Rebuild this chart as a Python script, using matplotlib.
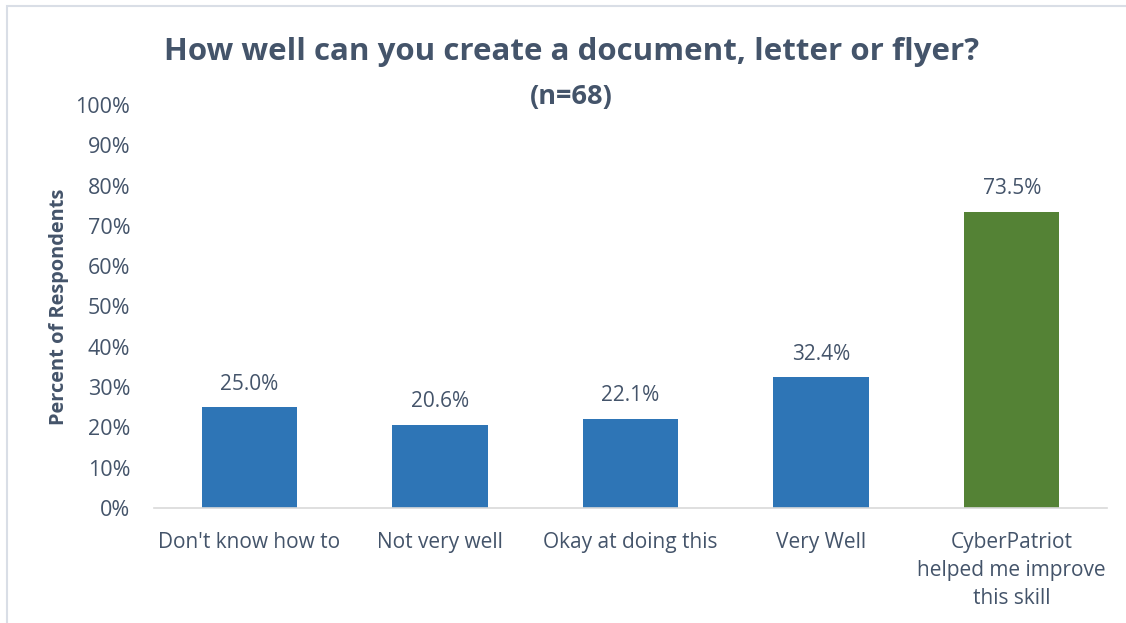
import matplotlib.pyplot as plt
from matplotlib.patches import Rectangle

categories = ["Don't know how to", "Not very well", "Okay at doing this", "Very Well",
              "CyberPatriot\nhelped me improve\nthis skill"]
percents = [25.0, 20.6, 22.1, 32.4, 73.5]
bar_colors = ["#2E75B6", "#2E75B6", "#2E75B6", "#2E75B6", "#548235"]
yticks = [0, 10, 20, 30, 40, 50, 60, 70, 80, 90, 100]

TXT = "#44546A"
plt.rcParams['font.family'] = ['Open Sans', 'DejaVu Sans']

fig = plt.figure(figsize=(11.26, 6.23), dpi=100)
ax = fig.add_axes([154 / 1126, 1 - 508 / 623, 953 / 1126, 403 / 623])

# light frame around the chart area
fig.patches.append(Rectangle((7 / 1126, -0.1), 1.2, 1 - 6 / 623 + 0.1, transform=fig.transFigure,
                             fill=False, edgecolor="#D9DEE6", linewidth=1.5))

x = range(len(categories))
bars = ax.bar(x, percents, width=0.5, color=bar_colors)
for b, v in zip(bars, percents):
    ax.annotate(f"{v:.1f}%", (b.get_x() + b.get_width() / 2, v), xytext=(0, 9),
                textcoords="offset points", ha="center", va="bottom", fontsize=15, color=TXT)

ax.set_xlim(-0.5, len(categories) - 0.5)
ax.set_ylim(0, 100)
ax.set_yticks(yticks)
ax.set_yticklabels([f"{t}%" for t in yticks])
ax.set_xticks(list(x))
ax.set_xticklabels(categories, linespacing=1.45)
ax.tick_params(axis="y", length=0, pad=17, labelsize=15.5, labelcolor=TXT)
ax.tick_params(axis="x", length=0, pad=17, labelsize=15, labelcolor=TXT)

for s in ["top", "right", "left"]:
    ax.spines[s].set_visible(False)
ax.spines["bottom"].set_color("#D9D9D9")
ax.spines["bottom"].set_linewidth(1.2)

ax.set_ylabel("Percent of Respondents", fontsize=14.4, fontweight="bold", color=TXT)
ax.yaxis.set_label_coords(-85 / 953, 0.5)

fig.text(572 / 1126, 1 - 52 / 623, "How well can you create a document, letter or flyer?",
         ha="center", va="center", fontsize=22.5, fontweight="bold", color=TXT)
fig.text(571 / 1126, 1 - 97 / 623, "(n=68)", ha="center", va="center",
         fontsize=19.5, fontweight="bold", color=TXT)

fig.savefig("out.png", dpi=100)
